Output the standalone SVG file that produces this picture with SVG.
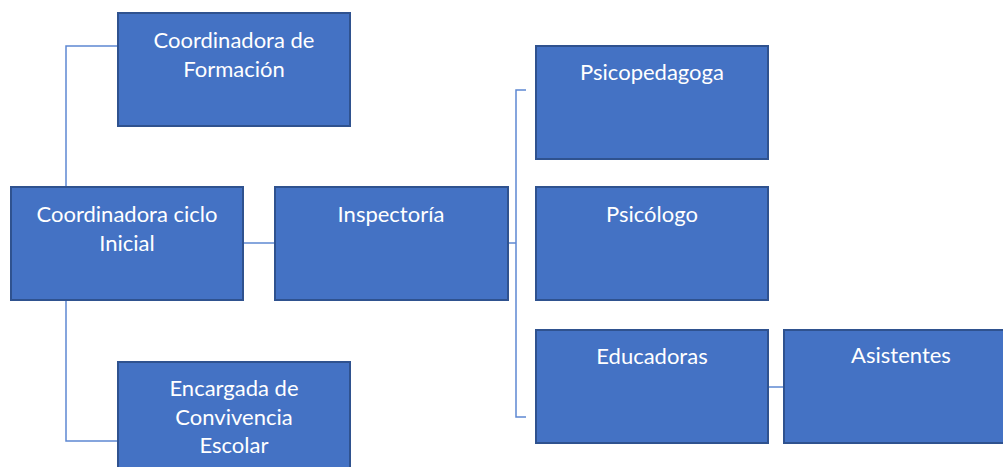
<svg xmlns="http://www.w3.org/2000/svg" width="1003" height="467" viewBox="0 0 1003 467">
<style>
.box{fill:#4472C4;stroke:#2F528F;stroke-width:2}
.t{font-family:Lato,"Open Sans","Liberation Sans",sans-serif;font-size:22px;fill:#FFFFFF;text-anchor:middle}
.c{fill:none;stroke:#5E88D2;stroke-width:1.5}
</style>
<rect width="1003" height="467" fill="#FFFFFF"/>
<g id="connectors">
<polyline class="c" points="66,187 66,46 118,46"/>
<polyline class="c" points="66,300 66,441 118,441"/>
<line class="c" x1="243" y1="243" x2="275" y2="243"/>
<polyline class="c" points="508,243 516,243"/>
<polyline class="c" points="526,90 516,90 516,417 526,417"/>
<line class="c" x1="768" y1="387" x2="784" y2="387"/>
</g>
<g id="n-formacion"><rect class="box" x="118" y="13" width="232" height="113"/><text class="t" x="234" y="48">Coordinadora de</text><text class="t" x="234" y="77">Formación</text></g>
<g id="n-ciclo"><rect class="box" x="11" y="187" width="232" height="113"/><text class="t" x="127" y="222">Coordinadora ciclo</text><text class="t" x="127" y="251">Inicial</text></g>
<g id="n-inspectoria"><rect class="box" x="275" y="187" width="233" height="113"/><text class="t" x="391" y="222">Inspectoría</text></g>
<g id="n-psicopedagoga"><rect class="box" x="536" y="46" width="232" height="113"/><text class="t" x="652" y="80">Psicopedagoga</text></g>
<g id="n-psicologo"><rect class="box" x="536" y="187" width="232" height="113"/><text class="t" x="652" y="222">Psicólogo</text></g>
<g id="n-educadoras"><rect class="box" x="536" y="330" width="232" height="113"/><text class="t" x="652" y="364">Educadoras</text></g>
<g id="n-asistentes"><rect class="box" x="784" y="330" width="232" height="113"/><text class="t" x="901" y="363">Asistentes</text></g>
<g id="n-encargada"><rect class="box" x="118" y="362" width="232" height="113"/><text class="t" x="234" y="396">Encargada de</text><text class="t" x="234" y="425">Convivencia</text><text class="t" x="234" y="453">Escolar</text></g>
</svg>
